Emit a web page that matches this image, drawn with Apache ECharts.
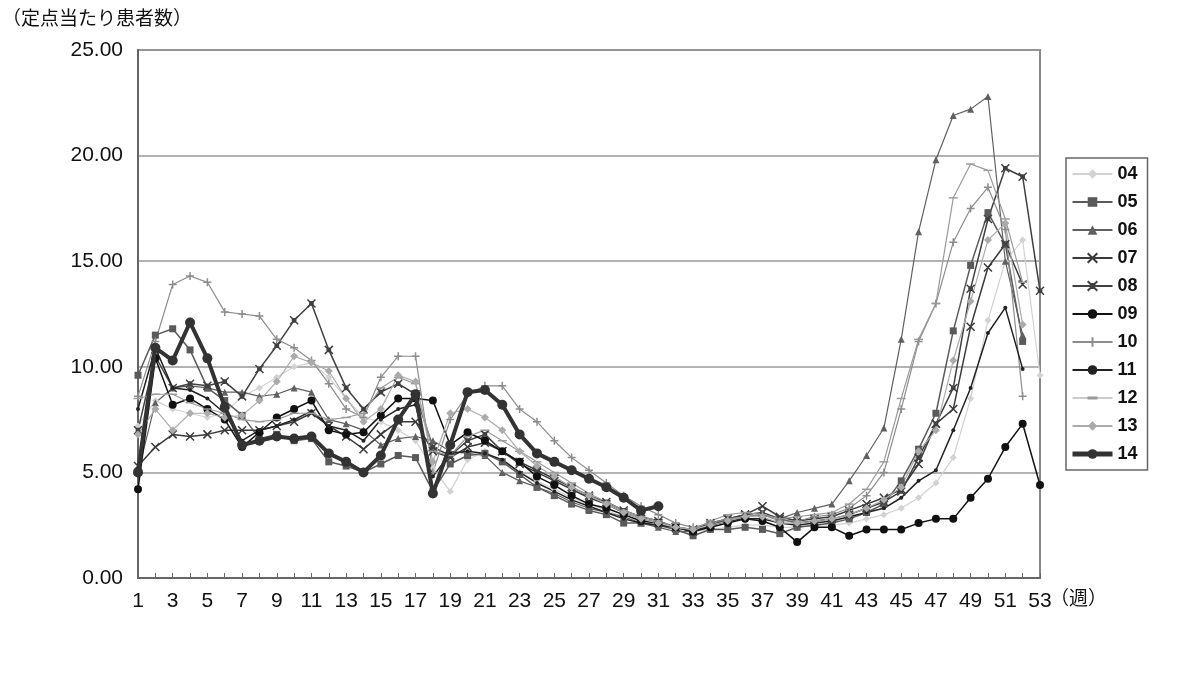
<!DOCTYPE html>
<html><head><meta charset="utf-8">
<script src="https://cdn.jsdelivr.net/npm/echarts@6/dist/echarts.min.js"></script>
<style>html,body{margin:0;padding:0;background:#fff}#c{width:1200px;height:684px}</style>
</head><body><div id="c"></div>
<script>
var weeks = [];
for (var i = 1; i <= 53; i++) weeks.push(String(i));
var yTicks = [0, 5, 10, 15, 20, 25];
var seriesNames = ['04','05','06','07','08','09','10','11','12','13','14'];

var s04 = [7.2,8.4,8.0,7.8,7.6,7.8,8.6,9.0,9.5,10.0,10.2,9.5,8.5,7.6,7.4,7.0,6.5,5.2,4.1,5.6,6.0,5.5,5.0,4.6,4.2,3.8,3.5,3.2,2.9,2.7,2.5,2.3,2.2,2.3,2.4,2.5,2.5,2.4,2.4,2.5,2.5,2.6,2.8,3.0,3.3,3.8,4.5,5.7,8.5,12.2,15.0,16.0,9.6];
var s05 = [9.6,11.5,11.8,10.8,9.0,8.4,7.7,6.6,6.8,6.5,6.6,5.5,5.3,5.0,5.4,5.8,5.7,4.1,5.4,5.8,5.9,5.5,4.9,4.3,3.9,3.5,3.2,3.0,2.6,2.6,2.5,2.3,2.0,2.3,2.3,2.4,2.3,2.1,2.4,2.5,2.6,2.8,3.1,3.5,4.6,6.1,7.8,11.7,14.8,17.3,15.8,11.2,null];
var s06 = [5.0,8.3,9.0,9.1,9.0,8.8,8.8,8.6,8.7,9.0,8.8,7.5,7.3,7.0,6.3,6.6,6.7,6.5,6.0,5.9,5.8,5.0,4.6,4.3,4.0,3.6,3.3,3.1,2.9,2.6,2.4,2.2,2.2,2.5,2.7,2.9,3.0,2.8,3.1,3.3,3.5,4.6,5.8,7.1,11.3,16.4,19.8,21.9,22.2,22.8,15.0,11.5,null];
var s07 = [5.3,6.2,6.8,6.7,6.8,7.0,7.0,7.0,7.2,7.4,7.8,7.2,6.7,6.1,6.8,7.4,7.4,6.0,5.7,6.2,6.4,6.0,5.4,5.0,4.6,4.2,3.8,3.5,3.1,2.8,2.6,2.4,2.3,2.6,2.8,3.0,3.4,2.9,2.7,2.8,2.9,3.2,3.5,3.8,4.2,5.4,7.3,8.0,11.9,14.7,15.8,13.9,null];
var s08 = [7.0,10.5,9.0,9.2,9.1,9.3,8.6,9.9,11.0,12.2,13.0,10.8,9.0,8.0,8.8,9.2,8.7,6.2,5.8,6.5,6.8,6.0,5.5,5.1,4.7,4.3,3.9,3.6,3.2,2.9,2.7,2.4,2.2,2.5,2.8,3.0,3.1,2.8,2.6,2.7,2.8,3.0,3.3,3.6,4.1,5.7,7.3,9.0,13.7,17.0,19.4,19.0,13.6,null];
var s09 = [4.2,10.4,8.2,8.5,8.0,7.5,6.2,6.9,7.6,8.0,8.4,7.0,6.8,6.9,7.7,8.5,8.5,8.4,6.3,6.9,6.5,6.0,5.5,4.8,4.4,3.9,3.5,3.3,3.0,2.7,2.6,2.4,2.2,2.4,2.6,2.8,2.7,2.4,1.7,2.4,2.4,2.0,2.3,2.3,2.3,2.6,2.8,2.8,3.8,4.7,6.2,7.3,4.4];
var s10 = [8.6,11.2,13.9,14.3,14.0,12.6,12.5,12.4,11.3,10.9,10.3,9.2,8.0,7.6,9.5,10.5,10.5,5.0,7.5,8.7,9.1,9.1,8.0,7.4,6.5,5.7,5.1,4.5,3.9,3.4,3.0,2.6,2.4,2.6,2.8,2.9,3.0,2.7,2.7,2.9,3.0,3.3,3.9,5.0,8.0,11.2,13.0,15.9,17.5,18.5,16.5,8.6,null];
var s11 = [8.0,10.9,9.0,8.9,8.5,7.8,6.5,7.0,7.2,7.5,7.9,7.2,7.0,6.5,7.5,8.0,8.2,4.8,5.9,6.0,5.9,5.6,5.0,4.5,4.1,3.7,3.4,3.1,2.8,2.6,2.5,2.4,2.2,2.5,2.7,2.8,2.8,2.6,2.5,2.6,2.7,2.9,3.1,3.3,3.8,4.6,5.1,7.0,9.0,11.6,12.8,9.9,null];
var s12 = [8.5,8.7,8.7,8.3,8.0,7.8,7.5,7.4,7.5,7.8,7.8,7.5,7.6,7.8,9.0,9.5,9.2,6.0,5.8,6.7,7.0,6.5,6.0,5.5,5.0,4.5,4.0,3.6,3.2,2.9,2.7,2.4,2.3,2.7,3.0,3.1,3.0,2.8,2.9,3.0,3.1,3.5,4.2,5.5,8.5,11.3,13.0,18.0,19.6,19.3,17.0,14.0,null];
var s13 = [6.8,8.0,7.0,7.8,7.8,7.6,7.7,8.4,9.3,10.5,10.2,9.8,8.5,7.4,8.0,9.6,9.3,5.5,7.8,8.0,7.6,7.0,6.0,5.3,4.8,4.3,3.9,3.5,3.1,2.8,2.6,2.4,2.3,2.5,2.7,2.9,2.9,2.6,2.6,2.7,2.8,3.0,3.3,3.7,4.3,6.0,7.0,10.3,13.1,16.0,16.8,12.0,null];
var s14 = [5.0,10.9,10.3,12.1,10.4,8.1,6.3,6.5,6.7,6.6,6.7,5.9,5.5,5.0,5.8,7.5,8.7,4.0,6.3,8.8,8.9,8.2,6.8,5.9,5.5,5.1,4.7,4.3,3.8,3.2,3.4];

var dataList = [s04,s05,s06,s07,s08,s09,s10,s11,s12,s13,s14];
var colors = ['#d2d2d2','#5a5a5a','#606060','#3a3a3a','#404040','#111111','#8c8c8c','#222222','#9a9a9a','#ababab','#333333'];
var symbols = ['diamond','rect','triangle','path://M0,0L10,10M10,0L0,10','path://M0,0L10,10M10,0L0,10M3,3H7V7H3Z','circle','path://M5,0V10M0,5H10','circle','path://M0,4.2H10V5.8H0Z','diamond','circle'];
var sizes = [7,7,7,8,8,8,8,4,9,8,10];
var widths = [1.2,1.5,1.2,1.5,1.5,1.5,1.2,1.5,1.2,1.2,4];

var series = seriesNames.map(function(n, k){
  var crossy = symbols[k].indexOf('path') === 0 && k !== 8;
  return {
    name: n, type: 'line', data: dataList[k],
    symbol: symbols[k], symbolSize: sizes[k], showSymbol: true,
    symbolKeepAspect: true,
    connectNulls: false,
    lineStyle: {color: colors[k], width: widths[k]},
    itemStyle: {color: colors[k], borderColor: colors[k], borderWidth: crossy ? 1.5 : 0},
    z: k === 10 ? 5 : 3
  };
});

var legendData = seriesNames.map(function(n, k){
  if (k === 10) return {name: n, lineStyle: {width: 5}};
  if (k === 8) return {name: n, icon: 'path://M0,5.4H40V6.6H0Z M15,4.6H25V7.4H15Z'};
  return {name: n};
});

var chart = echarts.init(document.getElementById('c'));
chart.setOption({
  animation: false,
  backgroundColor: '#fff',
  grid: {left: 138, right: 160, top: 50, bottom: 106, show: true, borderColor: '#888', borderWidth: 2},
  xAxis: {
    type: 'category', data: weeks, boundaryGap: false,
    axisLine: {lineStyle: {color: '#666', width: 2}},
    axisTick: {show: true, inside: true, length: 5, interval: 0, lineStyle: {color: '#666'}},
    axisLabel: {interval: 1, color: '#111', fontSize: 21, fontFamily: 'Liberation Sans', margin: 13},
    splitLine: {show: false}
  },
  yAxis: {
    type: 'value', min: yTicks[0], max: yTicks[yTicks.length-1], interval: 5,
    axisLine: {show: true, lineStyle: {color: '#666', width: 2}},
    axisTick: {show: false},
    axisLabel: {color: '#111', fontSize: 21, fontFamily: 'Liberation Sans', margin: 15,
      formatter: function(v){ return v.toFixed(2); }},
    splitLine: {show: true, lineStyle: {color: '#999', width: 1.5}}
  },
  legend: {
    orient: 'vertical', left: 1066, top: 158,
    data: legendData,
    itemWidth: 40, itemHeight: 12, itemGap: 10,
    symbolKeepAspect: true,
    padding: [7, 10, 7, 4],
    borderColor: '#666', borderWidth: 1.5,
    textStyle: {fontSize: 18, fontWeight: 'bold', color: '#111', fontFamily: 'Liberation Sans'}
  },
  graphic: [
    {type: 'text', left: 2, top: 8, style: {text: '（定点当たり患者数）', fontSize: 19, fill: '#111', fontFamily: 'Noto Sans CJK JP'}},
    {type: 'text', left: 1050, top: 588, style: {text: '（週）', fontSize: 19, fill: '#111', fontFamily: 'Noto Sans CJK JP'}}
  ],
  series: series
});
</script></body></html>
